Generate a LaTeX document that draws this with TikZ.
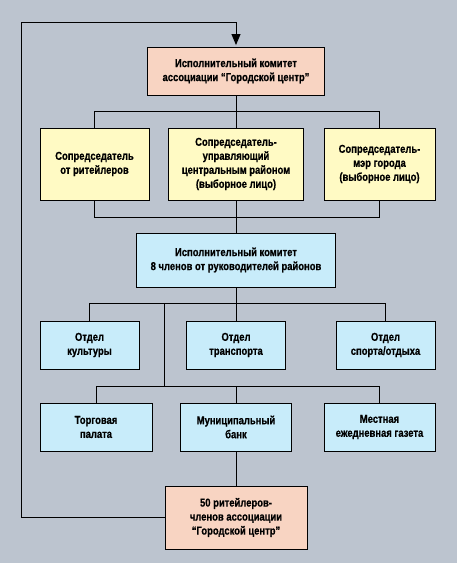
\documentclass[tikz,border=0pt]{standalone}
\usepackage{fontspec}
\setmainfont{Liberation Sans}[FakeStretch=0.82,BoldFeatures={FakeBold=0.6}]
\usetikzlibrary{arrows.meta}
\definecolor{bgc}{RGB}{188,196,207}
\definecolor{pinkc}{RGB}{248,212,194}
\definecolor{yelc}{RGB}{255,250,196}
\definecolor{bluec}{RGB}{200,236,250}
\tikzset{
  box/.style={draw=black, line width=0.9pt, inner sep=0pt, align=center,
    font=\fontsize{11.5}{14}\selectfont\bfseries},
  pinkbox/.style={box, fill=pinkc},
  yelbox/.style={box, fill=yelc},
  bluebox/.style={box, fill=bluec},
  conn/.style={line width=0.9pt, draw=black},
}
\begin{document}
\begin{tikzpicture}[x=1pt,y=-1pt]
\fill[bgc] (0,0) rectangle (457,563);
\useasboundingbox (0,0) rectangle (457,563);
% row 0
\node[pinkbox, minimum width=177pt, minimum height=48pt] (top) at (236,71) {Исполнительный комитет\\ассоциации “Городской центр”};
% row 1
\node[yelbox, minimum width=109pt, minimum height=72pt] (yl) at (94.5,164) {Сопредседатель\\от ритейлеров};
\node[yelbox, minimum width=135pt, minimum height=72pt] (ym) at (236,164) {Сопредседатель-\\управляющий\\центральным районом\\(выборное лицо)};
\node[yelbox, minimum width=111pt, minimum height=72pt] (yr) at (379.5,164) {Сопредседатель-\\мэр города\\(выборное лицо)};
% row 2
\node[bluebox, minimum width=199pt, minimum height=54pt] (ex) at (236,260) {Исполнительный комитет\\8 членов от руководителей районов};
% row 3
\node[bluebox, minimum width=99pt, minimum height=48pt] (dl) at (89.5,345) {Отдел\\культуры};
\node[bluebox, minimum width=99pt, minimum height=48pt] (dm) at (236,345) {Отдел\\транспорта};
\node[bluebox, minimum width=99pt, minimum height=48pt] (dr) at (385.5,345) {Отдел\\спорта/отдыха};
% row 4
\node[bluebox, minimum width=112pt, minimum height=48pt] (rl) at (96,427) {Торговая\\палата};
\node[bluebox, minimum width=111pt, minimum height=48pt] (rm) at (236,427) {Муниципальный\\банк};
\node[bluebox, minimum width=111pt, minimum height=48pt] (rr) at (379.5,427) {Местная\\ежедневная газета};
% bottom
\node[pinkbox, minimum width=142pt, minimum height=63pt] (bt) at (236,517.5) {50 ритейлеров-\\членов ассоциации\\“Городской центр”};
% connectors
\coordinate (loop) at (21,22);
\coordinate (br1) at (164,304);
\coordinate (br2) at (164,387);
\draw[conn] (top.south) -- (ym.north);
\draw[conn] (yl.north) -- ++(0,-16) -| (yr.north);
\draw[conn] (yl.south) -- ++(0,17) -| (yr.south);
\draw[conn] (ym.south) -- (ex.north);
\draw[conn] (ex.south) -- (dm.north);
\draw[conn] (dl.north) -- ++(0,-17) -| (dr.north);
\draw[conn] (br1) -- (br2);
\draw[conn] (rl.north) -- ++(0,-16) -| (rr.north);
\draw[conn] (rm.north) -- ++(0,-16);
\draw[conn] (rm.south) -- (bt.north);
\draw[conn, shorten >=1.5pt, -{Triangle[length=11pt,width=9pt]}] (bt.west) -| (loop) -| (top.north);
\end{tikzpicture}
\end{document}
